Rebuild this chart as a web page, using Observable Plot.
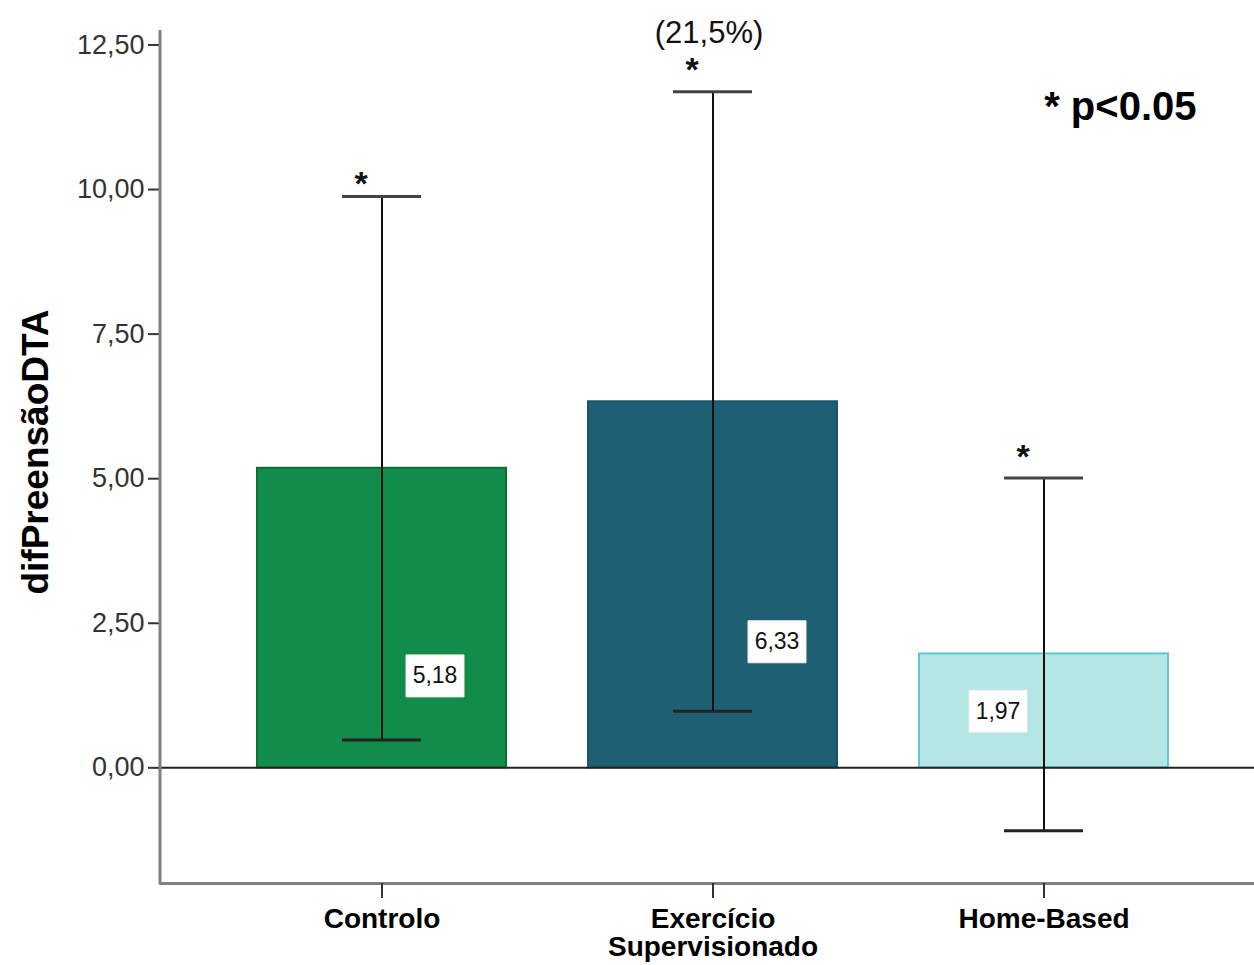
<!DOCTYPE html>
<html>
<head>
<meta charset="utf-8">
<script src="https://cdn.jsdelivr.net/npm/d3@7"></script>
<script src="https://cdn.jsdelivr.net/npm/@observablehq/plot@0.6"></script>
<style>
  html, body { margin: 0; padding: 0; background: #fff; }
  #chart svg { display: block; }
</style>
</head>
<body>
<div id="chart"></div>
<script>
// ---- data ----
const categories = ["Controlo", "Exercício Supervisionado", "Home-Based"];
const tickLabels = ["Controlo", "Exercício\nSupervisionado", "Home-Based"];
const means = [5.18, 6.33, 1.97];
const lower = [0.48, 0.98, -1.09];
const upper = [9.88, 11.69, 5.01];
const significant = [true, true, true];
const yTicks = [0, 2.5, 5, 7.5, 10, 12.5];
const yLabel = "difPreensãoDTA";
const pctNote = "(21,5%)";
const legendNote = "* p<0.05";

// ---- palette ----
const fills = ["#118c49", "#1e5f74", "#b4e6e6"];
const strokes = ["#0c6e38", "#19566a", "#5fc9cc"];

const rows = categories.map((c, i) => ({
  cat: c, label: tickLabels[i], mean: means[i], lo: lower[i], hi: upper[i],
  sig: significant[i], fill: fills[i], stroke: strokes[i]
}));

// annotation placement (data units / pixel nudges)
const valueLabelY = [1.59, 2.18, 0.98];
const valueLabelDx = [53, 64, -46];
const starLift = [0.21, 0.37, 0.37];

const fmt = d => d.toFixed(2).replace(".", ",");
const boxSymbol = { draw(ctx) { ctx.rect(-29, -21, 58, 42); } };
const font = "'Liberation Sans', Arial, Helvetica, sans-serif";
const narrow = "'Liberation Sans Narrow', 'Arial Narrow', 'Liberation Sans', sans-serif";

const plot = Plot.plot({
  width: 1254,
  height: 965,
  marginLeft: 160,
  marginRight: 0,
  marginTop: 30,
  marginBottom: 82,
  style: { fontFamily: font, color: "#222", background: "#fff" },
  x: { type: "band", domain: categories, range: [160, 1265], paddingInner: 0.2477, paddingOuter: 0.293 },
  y: { domain: [-2, 12.75] },
  color: { type: "identity" },
  marks: [
    Plot.barY(rows, { x: "cat", y: "mean", fill: "fill", stroke: "stroke", strokeWidth: 2 }),
    Plot.ruleY([0], { stroke: "#222", strokeWidth: 2 }),
    Plot.ruleX(rows, { x: "cat", y1: "lo", y2: "hi", stroke: "#111", strokeWidth: 2 }),
    Plot.tickY(rows, { x: "cat", y: "hi", insetLeft: 85, insetRight: 85, stroke: "#444", strokeWidth: 3 }),
    Plot.tickY(rows, { x: "cat", y: "lo", insetLeft: 85, insetRight: 85, stroke: "#222", strokeWidth: 3 }),
    Plot.ruleY([-2], { stroke: "#808080", strokeWidth: 3 }),
    ...rows.map((d, i) => Plot.dot([d], {
      x: "cat", y: () => valueLabelY[i], dx: valueLabelDx[i],
      symbol: boxSymbol, fill: "#fff", stroke: "#eeeeee", strokeWidth: 1
    })),
    ...rows.map((d, i) => Plot.text([d], {
      x: "cat", y: () => valueLabelY[i], dx: valueLabelDx[i],
      text: r => fmt(r.mean), fontSize: 23, fontFamily: narrow, fill: "#111"
    })),
    ...rows.filter(d => d.sig).map(d => {
      const i = rows.indexOf(d);
      return Plot.text([d], {
        x: "cat", y: r => r.hi + starLift[i], dx: -21,
        text: () => "*", fontSize: 34, fontWeight: "bold", fill: "#111"
      });
    }),
    Plot.text([rows[1]], {
      x: "cat", y: r => r.hi, dx: -4, dy: -59,
      text: () => pctNote, fontSize: 31, fill: "#111"
    }),
    Plot.text([legendNote], {
      frameAnchor: "top-right", textAnchor: "end", lineAnchor: "middle", dx: -58, dy: 77,
      fontSize: 40, fontWeight: "bold", fill: "#000"
    }),
    Plot.text([yLabel], {
      frameAnchor: "left", textAnchor: "middle", lineAnchor: "middle", rotate: -90, dx: -124, dy: -5,
      fontSize: 37, fontWeight: "bold", fill: "#000"
    }),
    Plot.axisY({
      ticks: yTicks, tickFormat: fmt, tickSize: 12, tickPadding: 4,
      fontSize: 27, stroke: "#333", strokeWidth: 2, fill: "#333", label: null
    }),
    Plot.axisX({
      tickFormat: (d) => tickLabels[categories.indexOf(d)], tickSize: 15, tickPadding: 10,
      lineHeight: 1.0, fontSize: 28, fontWeight: "bold", stroke: "#333", strokeWidth: 2, fill: "#000", label: null
    })
  ]
});

// left axis line spanning the y range
const ys = plot.scale("y").range;
d3.select(plot).append("line")
  .attr("x1", 160).attr("x2", 160)
  .attr("y1", Math.min(...ys)).attr("y2", Math.max(...ys) + 1.5)
  .attr("stroke", "#808080").attr("stroke-width", 3);

document.getElementById("chart").appendChild(plot);
</script>
</body>
</html>
